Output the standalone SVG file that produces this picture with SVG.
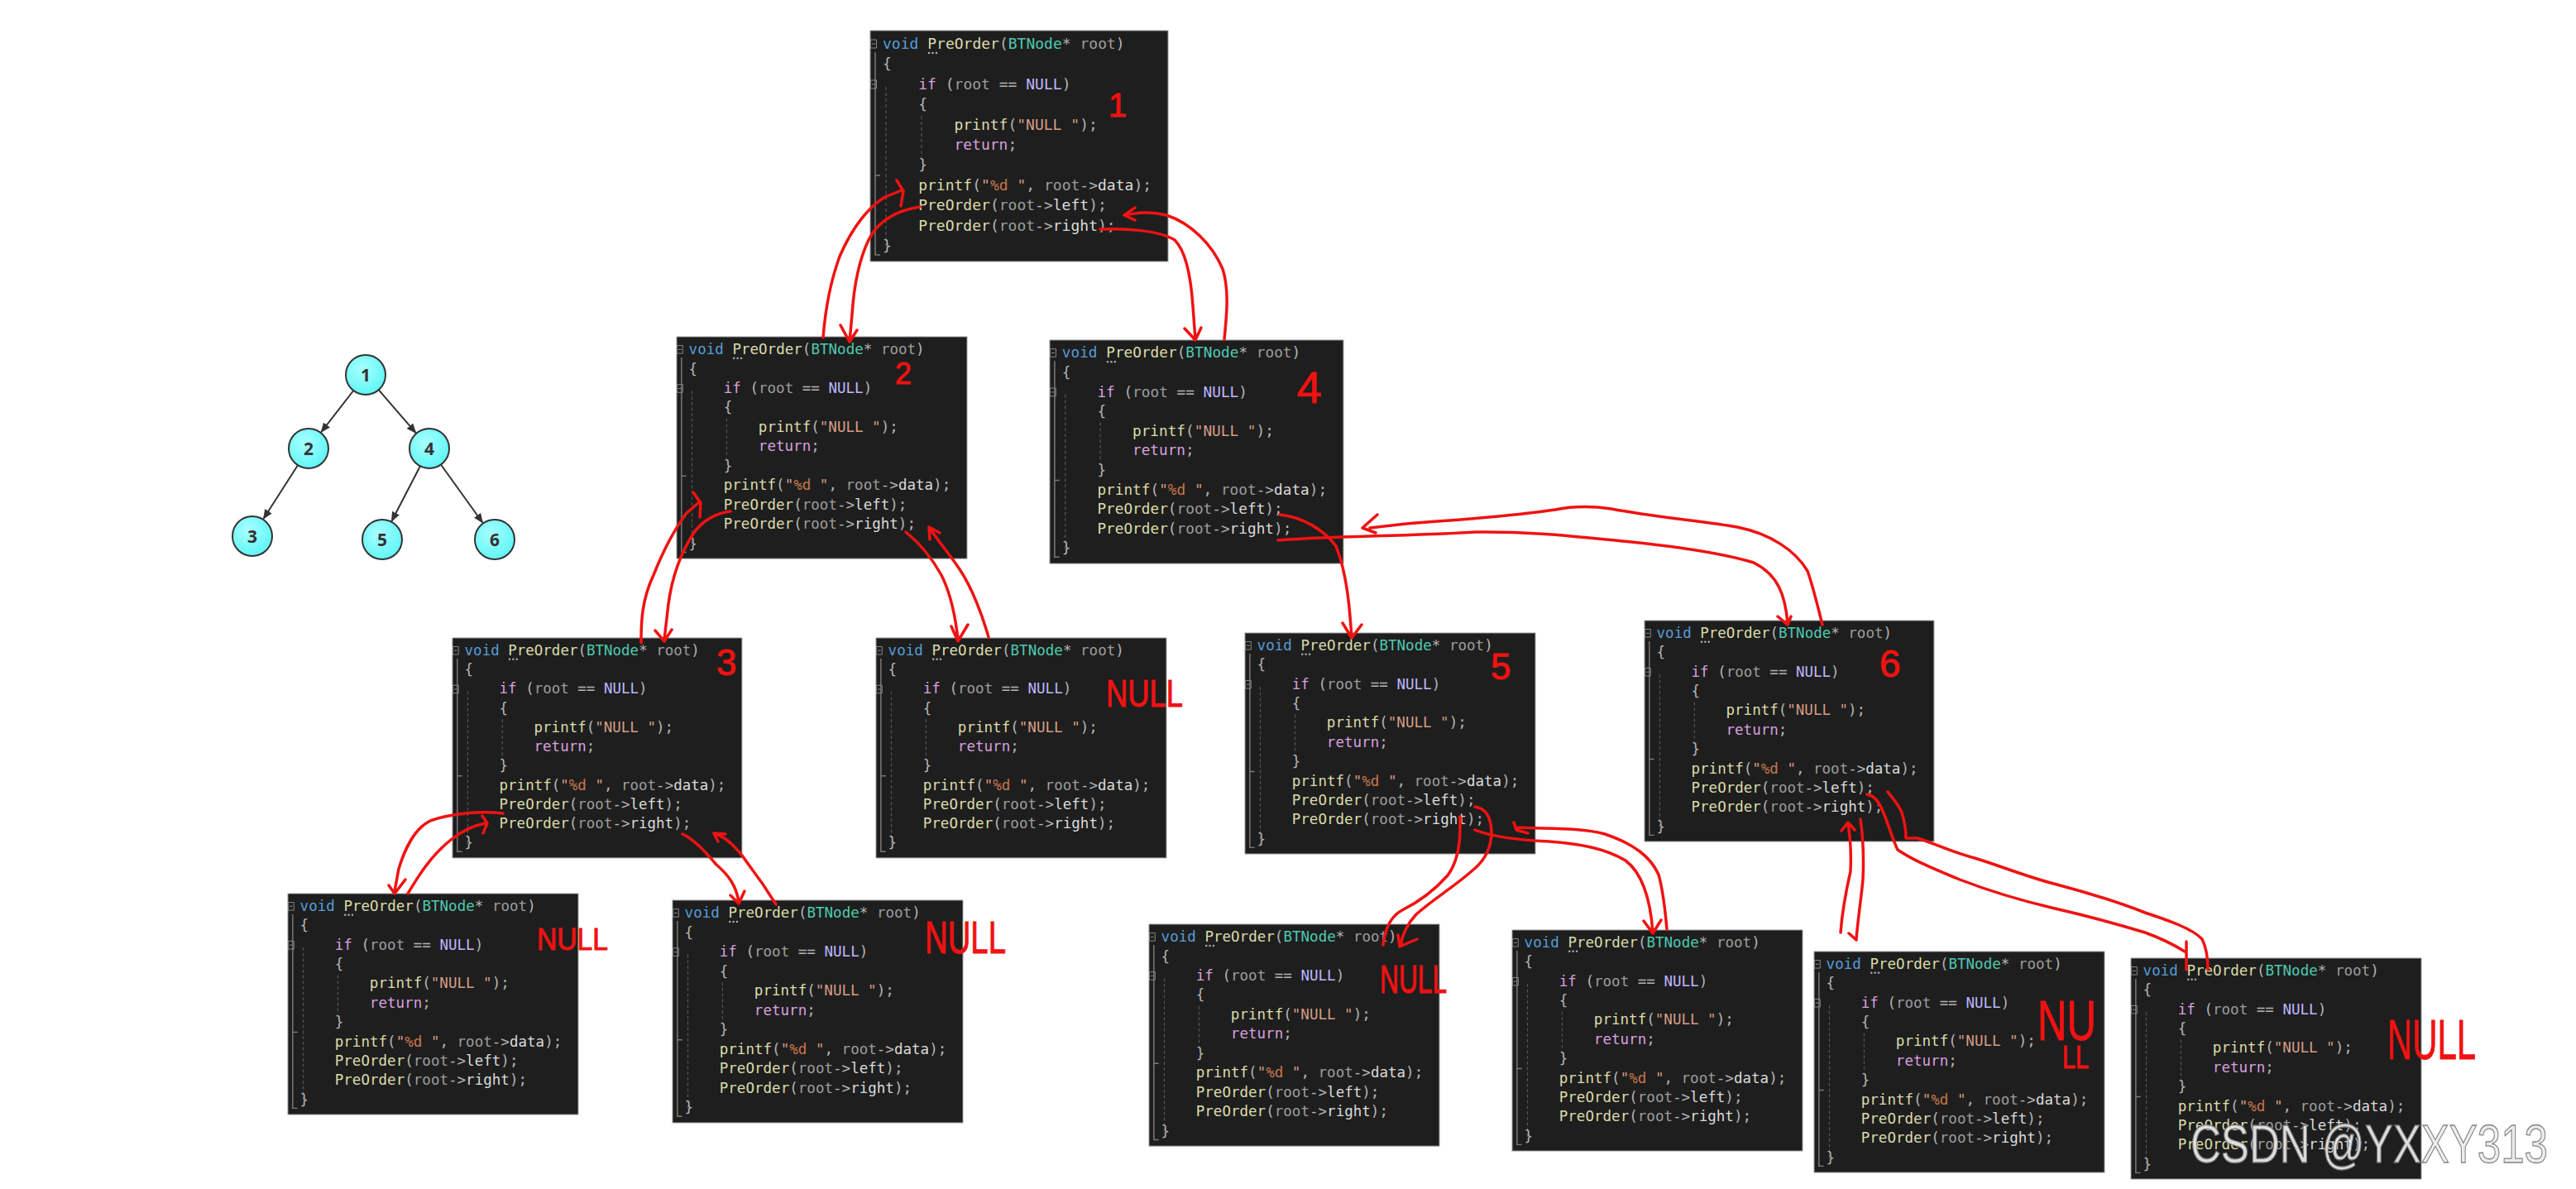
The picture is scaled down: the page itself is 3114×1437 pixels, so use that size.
<svg xmlns="http://www.w3.org/2000/svg" width="3114" height="1437" viewBox="0 0 3114 1437">
<defs>
<style>
.bg{fill:#1E1E1E;stroke:#9a9a9a;stroke-width:1}
.gut{fill:none;stroke:#7a7a7a;stroke-width:1.5}
.gd{fill:none;stroke:#555;stroke-width:1.2;stroke-dasharray:4 3}
.fold{fill:none;stroke:#8a8a8a;stroke-width:1}
.dot{fill:#aaa}
.code text{font-family:"DejaVu Sans Mono","Liberation Mono",monospace;font-size:18px;fill:#B4B4B4;white-space:pre}
.kw{fill:#569CD6}.fn{fill:#DCDCAA}.ty{fill:#4EC9B0}.pr{fill:#9C9C9C}.ct{fill:#D8A0DF}.mc{fill:#BEB7FF}.st{fill:#D69D85}.fm{fill:#C8764B}.fd{fill:#DADADA}
.red{fill:none;stroke:#F01212;stroke-width:3.5;stroke-linecap:round;stroke-linejoin:round}
.hw{font-family:"Liberation Sans Narrow","Liberation Sans",sans-serif;fill:#F01212;stroke:#F01212;stroke-width:1}
.tn{fill:url(#ng);stroke:#333;stroke-width:2}
.tl{font-family:"Open Sans","Liberation Sans",sans-serif;font-weight:700;font-size:21px;fill:#333;text-anchor:middle}
.te{fill:none;stroke:#333;stroke-width:2}
</style>
<radialGradient id="ng" cx="0.4" cy="0.35" r="0.7"><stop offset="0" stop-color="#A8FFFF"/><stop offset="1" stop-color="#5CF5F5"/></radialGradient>
<marker id="ah" viewBox="0 0 12 10" refX="12" refY="5" markerWidth="12" markerHeight="10" markerUnits="userSpaceOnUse" orient="auto"><path d="M0,0L12,5L0,10z" fill="#333"/></marker>
</defs>
<rect width="3114" height="1437" fill="#ffffff"/>

<g id="tree-edges">
<line class="te" x1="427.3" y1="472" x2="387.7" y2="523" marker-end="url(#ah)"/>
<line class="te" x1="457.7" y1="471.1" x2="503.3" y2="523.9" marker-end="url(#ah)"/>
<line class="te" x1="360" y1="562.2" x2="318" y2="627.8" marker-end="url(#ah)"/>
<line class="te" x1="508" y1="563.3" x2="473" y2="630.7" marker-end="url(#ah)"/>
<line class="te" x1="533" y1="561.5" x2="584" y2="632.5" marker-end="url(#ah)"/>
</g>
<g id="tree-node-1"><circle class="tn" cx="442" cy="453" r="24"/><text class="tl" x="442" y="461">1</text></g>
<g id="tree-node-2"><circle class="tn" cx="373" cy="542" r="24"/><text class="tl" x="373" y="550">2</text></g>
<g id="tree-node-4"><circle class="tn" cx="519" cy="542" r="24"/><text class="tl" x="519" y="550">4</text></g>
<g id="tree-node-3"><circle class="tn" cx="305" cy="648" r="24"/><text class="tl" x="305" y="656">3</text></g>
<g id="tree-node-5"><circle class="tn" cx="462" cy="652" r="24"/><text class="tl" x="462" y="660">5</text></g>
<g id="tree-node-6"><circle class="tn" cx="598" cy="652" r="24"/><text class="tl" x="598" y="660">6</text></g>

<g id="call-1" class="code" transform="translate(1052,37) scale(1,1)">
<rect class="bg" width="360" height="279"/><path class="gut" d="M6,26V271H12M6,175H12"/><path class="gd" d="M19,68V262M62,103V153"/><path class="fold" d="M0.5,11h7v10h-7zM2,16h4M0.5,60h7v10h-7zM2,65h4"/><circle class="dot" cx="71" cy="27" r="1.3"/><circle class="dot" cx="75.5" cy="27" r="1.3"/><circle class="dot" cx="80" cy="27" r="1.3"/>
<text x="15" y="22"><tspan class="kw">void</tspan> <tspan class="fn">PreOrder</tspan>(<tspan class="ty">BTNode</tspan>* <tspan class="pr">root</tspan>)</text>
<text x="15" y="46.4">{</text>
<text x="58.2" y="70.8"><tspan class="ct">if</tspan> (<tspan class="pr">root</tspan> == <tspan class="mc">NULL</tspan>)</text>
<text x="58.2" y="95.2">{</text>
<text x="101.4" y="119.6"><tspan class="fn">printf</tspan>(<tspan class="st">"NULL "</tspan>);</text>
<text x="101.4" y="144"><tspan class="ct">return</tspan>;</text>
<text x="58.2" y="168.4">}</text>
<text x="58.2" y="192.8"><tspan class="fn">printf</tspan>(<tspan class="st">"<tspan class="fm">%d</tspan> "</tspan>, <tspan class="pr">root</tspan>-&gt;<tspan class="fd">data</tspan>);</text>
<text x="58.2" y="217.2"><tspan class="fn">PreOrder</tspan>(<tspan class="pr">root</tspan>-&gt;<tspan class="fd">left</tspan>);</text>
<text x="58.2" y="241.6"><tspan class="fn">PreOrder</tspan>(<tspan class="pr">root</tspan>-&gt;<tspan class="fd">right</tspan>);</text>
<text x="15" y="266">}</text>
</g>

<g id="call-2" class="code" transform="translate(818,407) scale(0.975,0.961)">
<rect class="bg" width="360" height="279"/><path class="gut" d="M6,26V271H12M6,175H12"/><path class="gd" d="M19,68V262M62,103V153"/><path class="fold" d="M0.5,11h7v10h-7zM2,16h4M0.5,60h7v10h-7zM2,65h4"/><circle class="dot" cx="71" cy="27" r="1.3"/><circle class="dot" cx="75.5" cy="27" r="1.3"/><circle class="dot" cx="80" cy="27" r="1.3"/>
<text x="15" y="22"><tspan class="kw">void</tspan> <tspan class="fn">PreOrder</tspan>(<tspan class="ty">BTNode</tspan>* <tspan class="pr">root</tspan>)</text>
<text x="15" y="46.4">{</text>
<text x="58.2" y="70.8"><tspan class="ct">if</tspan> (<tspan class="pr">root</tspan> == <tspan class="mc">NULL</tspan>)</text>
<text x="58.2" y="95.2">{</text>
<text x="101.4" y="119.6"><tspan class="fn">printf</tspan>(<tspan class="st">"NULL "</tspan>);</text>
<text x="101.4" y="144"><tspan class="ct">return</tspan>;</text>
<text x="58.2" y="168.4">}</text>
<text x="58.2" y="192.8"><tspan class="fn">printf</tspan>(<tspan class="st">"<tspan class="fm">%d</tspan> "</tspan>, <tspan class="pr">root</tspan>-&gt;<tspan class="fd">data</tspan>);</text>
<text x="58.2" y="217.2"><tspan class="fn">PreOrder</tspan>(<tspan class="pr">root</tspan>-&gt;<tspan class="fd">left</tspan>);</text>
<text x="58.2" y="241.6"><tspan class="fn">PreOrder</tspan>(<tspan class="pr">root</tspan>-&gt;<tspan class="fd">right</tspan>);</text>
<text x="15" y="266">}</text>
</g>

<g id="call-4" class="code" transform="translate(1269,411) scale(0.986,0.968)">
<rect class="bg" width="360" height="279"/><path class="gut" d="M6,26V271H12M6,175H12"/><path class="gd" d="M19,68V262M62,103V153"/><path class="fold" d="M0.5,11h7v10h-7zM2,16h4M0.5,60h7v10h-7zM2,65h4"/><circle class="dot" cx="71" cy="27" r="1.3"/><circle class="dot" cx="75.5" cy="27" r="1.3"/><circle class="dot" cx="80" cy="27" r="1.3"/>
<text x="15" y="22"><tspan class="kw">void</tspan> <tspan class="fn">PreOrder</tspan>(<tspan class="ty">BTNode</tspan>* <tspan class="pr">root</tspan>)</text>
<text x="15" y="46.4">{</text>
<text x="58.2" y="70.8"><tspan class="ct">if</tspan> (<tspan class="pr">root</tspan> == <tspan class="mc">NULL</tspan>)</text>
<text x="58.2" y="95.2">{</text>
<text x="101.4" y="119.6"><tspan class="fn">printf</tspan>(<tspan class="st">"NULL "</tspan>);</text>
<text x="101.4" y="144"><tspan class="ct">return</tspan>;</text>
<text x="58.2" y="168.4">}</text>
<text x="58.2" y="192.8"><tspan class="fn">printf</tspan>(<tspan class="st">"<tspan class="fm">%d</tspan> "</tspan>, <tspan class="pr">root</tspan>-&gt;<tspan class="fd">data</tspan>);</text>
<text x="58.2" y="217.2"><tspan class="fn">PreOrder</tspan>(<tspan class="pr">root</tspan>-&gt;<tspan class="fd">left</tspan>);</text>
<text x="58.2" y="241.6"><tspan class="fn">PreOrder</tspan>(<tspan class="pr">root</tspan>-&gt;<tspan class="fd">right</tspan>);</text>
<text x="15" y="266">}</text>
</g>

<g id="call-3" class="code" transform="translate(547,771) scale(0.972,0.953)">
<rect class="bg" width="360" height="279"/><path class="gut" d="M6,26V271H12M6,175H12"/><path class="gd" d="M19,68V262M62,103V153"/><path class="fold" d="M0.5,11h7v10h-7zM2,16h4M0.5,60h7v10h-7zM2,65h4"/><circle class="dot" cx="71" cy="27" r="1.3"/><circle class="dot" cx="75.5" cy="27" r="1.3"/><circle class="dot" cx="80" cy="27" r="1.3"/>
<text x="15" y="22"><tspan class="kw">void</tspan> <tspan class="fn">PreOrder</tspan>(<tspan class="ty">BTNode</tspan>* <tspan class="pr">root</tspan>)</text>
<text x="15" y="46.4">{</text>
<text x="58.2" y="70.8"><tspan class="ct">if</tspan> (<tspan class="pr">root</tspan> == <tspan class="mc">NULL</tspan>)</text>
<text x="58.2" y="95.2">{</text>
<text x="101.4" y="119.6"><tspan class="fn">printf</tspan>(<tspan class="st">"NULL "</tspan>);</text>
<text x="101.4" y="144"><tspan class="ct">return</tspan>;</text>
<text x="58.2" y="168.4">}</text>
<text x="58.2" y="192.8"><tspan class="fn">printf</tspan>(<tspan class="st">"<tspan class="fm">%d</tspan> "</tspan>, <tspan class="pr">root</tspan>-&gt;<tspan class="fd">data</tspan>);</text>
<text x="58.2" y="217.2"><tspan class="fn">PreOrder</tspan>(<tspan class="pr">root</tspan>-&gt;<tspan class="fd">left</tspan>);</text>
<text x="58.2" y="241.6"><tspan class="fn">PreOrder</tspan>(<tspan class="pr">root</tspan>-&gt;<tspan class="fd">right</tspan>);</text>
<text x="15" y="266">}</text>
</g>

<g id="call-null-2r" class="code" transform="translate(1059,771) scale(0.975,0.953)">
<rect class="bg" width="360" height="279"/><path class="gut" d="M6,26V271H12M6,175H12"/><path class="gd" d="M19,68V262M62,103V153"/><path class="fold" d="M0.5,11h7v10h-7zM2,16h4M0.5,60h7v10h-7zM2,65h4"/><circle class="dot" cx="71" cy="27" r="1.3"/><circle class="dot" cx="75.5" cy="27" r="1.3"/><circle class="dot" cx="80" cy="27" r="1.3"/>
<text x="15" y="22"><tspan class="kw">void</tspan> <tspan class="fn">PreOrder</tspan>(<tspan class="ty">BTNode</tspan>* <tspan class="pr">root</tspan>)</text>
<text x="15" y="46.4">{</text>
<text x="58.2" y="70.8"><tspan class="ct">if</tspan> (<tspan class="pr">root</tspan> == <tspan class="mc">NULL</tspan>)</text>
<text x="58.2" y="95.2">{</text>
<text x="101.4" y="119.6"><tspan class="fn">printf</tspan>(<tspan class="st">"NULL "</tspan>);</text>
<text x="101.4" y="144"><tspan class="ct">return</tspan>;</text>
<text x="58.2" y="168.4">}</text>
<text x="58.2" y="192.8"><tspan class="fn">printf</tspan>(<tspan class="st">"<tspan class="fm">%d</tspan> "</tspan>, <tspan class="pr">root</tspan>-&gt;<tspan class="fd">data</tspan>);</text>
<text x="58.2" y="217.2"><tspan class="fn">PreOrder</tspan>(<tspan class="pr">root</tspan>-&gt;<tspan class="fd">left</tspan>);</text>
<text x="58.2" y="241.6"><tspan class="fn">PreOrder</tspan>(<tspan class="pr">root</tspan>-&gt;<tspan class="fd">right</tspan>);</text>
<text x="15" y="266">}</text>
</g>

<g id="call-5" class="code" transform="translate(1505,765) scale(0.975,0.957)">
<rect class="bg" width="360" height="279"/><path class="gut" d="M6,26V271H12M6,175H12"/><path class="gd" d="M19,68V262M62,103V153"/><path class="fold" d="M0.5,11h7v10h-7zM2,16h4M0.5,60h7v10h-7zM2,65h4"/><circle class="dot" cx="71" cy="27" r="1.3"/><circle class="dot" cx="75.5" cy="27" r="1.3"/><circle class="dot" cx="80" cy="27" r="1.3"/>
<text x="15" y="22"><tspan class="kw">void</tspan> <tspan class="fn">PreOrder</tspan>(<tspan class="ty">BTNode</tspan>* <tspan class="pr">root</tspan>)</text>
<text x="15" y="46.4">{</text>
<text x="58.2" y="70.8"><tspan class="ct">if</tspan> (<tspan class="pr">root</tspan> == <tspan class="mc">NULL</tspan>)</text>
<text x="58.2" y="95.2">{</text>
<text x="101.4" y="119.6"><tspan class="fn">printf</tspan>(<tspan class="st">"NULL "</tspan>);</text>
<text x="101.4" y="144"><tspan class="ct">return</tspan>;</text>
<text x="58.2" y="168.4">}</text>
<text x="58.2" y="192.8"><tspan class="fn">printf</tspan>(<tspan class="st">"<tspan class="fm">%d</tspan> "</tspan>, <tspan class="pr">root</tspan>-&gt;<tspan class="fd">data</tspan>);</text>
<text x="58.2" y="217.2"><tspan class="fn">PreOrder</tspan>(<tspan class="pr">root</tspan>-&gt;<tspan class="fd">left</tspan>);</text>
<text x="58.2" y="241.6"><tspan class="fn">PreOrder</tspan>(<tspan class="pr">root</tspan>-&gt;<tspan class="fd">right</tspan>);</text>
<text x="15" y="266">}</text>
</g>

<g id="call-6" class="code" transform="translate(1988,750) scale(0.972,0.957)">
<rect class="bg" width="360" height="279"/><path class="gut" d="M6,26V271H12M6,175H12"/><path class="gd" d="M19,68V262M62,103V153"/><path class="fold" d="M0.5,11h7v10h-7zM2,16h4M0.5,60h7v10h-7zM2,65h4"/><circle class="dot" cx="71" cy="27" r="1.3"/><circle class="dot" cx="75.5" cy="27" r="1.3"/><circle class="dot" cx="80" cy="27" r="1.3"/>
<text x="15" y="22"><tspan class="kw">void</tspan> <tspan class="fn">PreOrder</tspan>(<tspan class="ty">BTNode</tspan>* <tspan class="pr">root</tspan>)</text>
<text x="15" y="46.4">{</text>
<text x="58.2" y="70.8"><tspan class="ct">if</tspan> (<tspan class="pr">root</tspan> == <tspan class="mc">NULL</tspan>)</text>
<text x="58.2" y="95.2">{</text>
<text x="101.4" y="119.6"><tspan class="fn">printf</tspan>(<tspan class="st">"NULL "</tspan>);</text>
<text x="101.4" y="144"><tspan class="ct">return</tspan>;</text>
<text x="58.2" y="168.4">}</text>
<text x="58.2" y="192.8"><tspan class="fn">printf</tspan>(<tspan class="st">"<tspan class="fm">%d</tspan> "</tspan>, <tspan class="pr">root</tspan>-&gt;<tspan class="fd">data</tspan>);</text>
<text x="58.2" y="217.2"><tspan class="fn">PreOrder</tspan>(<tspan class="pr">root</tspan>-&gt;<tspan class="fd">left</tspan>);</text>
<text x="58.2" y="241.6"><tspan class="fn">PreOrder</tspan>(<tspan class="pr">root</tspan>-&gt;<tspan class="fd">right</tspan>);</text>
<text x="15" y="266">}</text>
</g>

<g id="call-null-3l" class="code" transform="translate(348,1080) scale(0.975,0.957)">
<rect class="bg" width="360" height="279"/><path class="gut" d="M6,26V271H12M6,175H12"/><path class="gd" d="M19,68V262M62,103V153"/><path class="fold" d="M0.5,11h7v10h-7zM2,16h4M0.5,60h7v10h-7zM2,65h4"/><circle class="dot" cx="71" cy="27" r="1.3"/><circle class="dot" cx="75.5" cy="27" r="1.3"/><circle class="dot" cx="80" cy="27" r="1.3"/>
<text x="15" y="22"><tspan class="kw">void</tspan> <tspan class="fn">PreOrder</tspan>(<tspan class="ty">BTNode</tspan>* <tspan class="pr">root</tspan>)</text>
<text x="15" y="46.4">{</text>
<text x="58.2" y="70.8"><tspan class="ct">if</tspan> (<tspan class="pr">root</tspan> == <tspan class="mc">NULL</tspan>)</text>
<text x="58.2" y="95.2">{</text>
<text x="101.4" y="119.6"><tspan class="fn">printf</tspan>(<tspan class="st">"NULL "</tspan>);</text>
<text x="101.4" y="144"><tspan class="ct">return</tspan>;</text>
<text x="58.2" y="168.4">}</text>
<text x="58.2" y="192.8"><tspan class="fn">printf</tspan>(<tspan class="st">"<tspan class="fm">%d</tspan> "</tspan>, <tspan class="pr">root</tspan>-&gt;<tspan class="fd">data</tspan>);</text>
<text x="58.2" y="217.2"><tspan class="fn">PreOrder</tspan>(<tspan class="pr">root</tspan>-&gt;<tspan class="fd">left</tspan>);</text>
<text x="58.2" y="241.6"><tspan class="fn">PreOrder</tspan>(<tspan class="pr">root</tspan>-&gt;<tspan class="fd">right</tspan>);</text>
<text x="15" y="266">}</text>
</g>

<g id="call-null-3r" class="code" transform="translate(813,1088) scale(0.975,0.964)">
<rect class="bg" width="360" height="279"/><path class="gut" d="M6,26V271H12M6,175H12"/><path class="gd" d="M19,68V262M62,103V153"/><path class="fold" d="M0.5,11h7v10h-7zM2,16h4M0.5,60h7v10h-7zM2,65h4"/><circle class="dot" cx="71" cy="27" r="1.3"/><circle class="dot" cx="75.5" cy="27" r="1.3"/><circle class="dot" cx="80" cy="27" r="1.3"/>
<text x="15" y="22"><tspan class="kw">void</tspan> <tspan class="fn">PreOrder</tspan>(<tspan class="ty">BTNode</tspan>* <tspan class="pr">root</tspan>)</text>
<text x="15" y="46.4">{</text>
<text x="58.2" y="70.8"><tspan class="ct">if</tspan> (<tspan class="pr">root</tspan> == <tspan class="mc">NULL</tspan>)</text>
<text x="58.2" y="95.2">{</text>
<text x="101.4" y="119.6"><tspan class="fn">printf</tspan>(<tspan class="st">"NULL "</tspan>);</text>
<text x="101.4" y="144"><tspan class="ct">return</tspan>;</text>
<text x="58.2" y="168.4">}</text>
<text x="58.2" y="192.8"><tspan class="fn">printf</tspan>(<tspan class="st">"<tspan class="fm">%d</tspan> "</tspan>, <tspan class="pr">root</tspan>-&gt;<tspan class="fd">data</tspan>);</text>
<text x="58.2" y="217.2"><tspan class="fn">PreOrder</tspan>(<tspan class="pr">root</tspan>-&gt;<tspan class="fd">left</tspan>);</text>
<text x="58.2" y="241.6"><tspan class="fn">PreOrder</tspan>(<tspan class="pr">root</tspan>-&gt;<tspan class="fd">right</tspan>);</text>
<text x="15" y="266">}</text>
</g>

<g id="call-null-5l" class="code" transform="translate(1389,1117) scale(0.975,0.961)">
<rect class="bg" width="360" height="279"/><path class="gut" d="M6,26V271H12M6,175H12"/><path class="gd" d="M19,68V262M62,103V153"/><path class="fold" d="M0.5,11h7v10h-7zM2,16h4M0.5,60h7v10h-7zM2,65h4"/><circle class="dot" cx="71" cy="27" r="1.3"/><circle class="dot" cx="75.5" cy="27" r="1.3"/><circle class="dot" cx="80" cy="27" r="1.3"/>
<text x="15" y="22"><tspan class="kw">void</tspan> <tspan class="fn">PreOrder</tspan>(<tspan class="ty">BTNode</tspan>* <tspan class="pr">root</tspan>)</text>
<text x="15" y="46.4">{</text>
<text x="58.2" y="70.8"><tspan class="ct">if</tspan> (<tspan class="pr">root</tspan> == <tspan class="mc">NULL</tspan>)</text>
<text x="58.2" y="95.2">{</text>
<text x="101.4" y="119.6"><tspan class="fn">printf</tspan>(<tspan class="st">"NULL "</tspan>);</text>
<text x="101.4" y="144"><tspan class="ct">return</tspan>;</text>
<text x="58.2" y="168.4">}</text>
<text x="58.2" y="192.8"><tspan class="fn">printf</tspan>(<tspan class="st">"<tspan class="fm">%d</tspan> "</tspan>, <tspan class="pr">root</tspan>-&gt;<tspan class="fd">data</tspan>);</text>
<text x="58.2" y="217.2"><tspan class="fn">PreOrder</tspan>(<tspan class="pr">root</tspan>-&gt;<tspan class="fd">left</tspan>);</text>
<text x="58.2" y="241.6"><tspan class="fn">PreOrder</tspan>(<tspan class="pr">root</tspan>-&gt;<tspan class="fd">right</tspan>);</text>
<text x="15" y="266">}</text>
</g>

<g id="call-null-5r" class="code" transform="translate(1828,1124) scale(0.975,0.957)">
<rect class="bg" width="360" height="279"/><path class="gut" d="M6,26V271H12M6,175H12"/><path class="gd" d="M19,68V262M62,103V153"/><path class="fold" d="M0.5,11h7v10h-7zM2,16h4M0.5,60h7v10h-7zM2,65h4"/><circle class="dot" cx="71" cy="27" r="1.3"/><circle class="dot" cx="75.5" cy="27" r="1.3"/><circle class="dot" cx="80" cy="27" r="1.3"/>
<text x="15" y="22"><tspan class="kw">void</tspan> <tspan class="fn">PreOrder</tspan>(<tspan class="ty">BTNode</tspan>* <tspan class="pr">root</tspan>)</text>
<text x="15" y="46.4">{</text>
<text x="58.2" y="70.8"><tspan class="ct">if</tspan> (<tspan class="pr">root</tspan> == <tspan class="mc">NULL</tspan>)</text>
<text x="58.2" y="95.2">{</text>
<text x="101.4" y="119.6"><tspan class="fn">printf</tspan>(<tspan class="st">"NULL "</tspan>);</text>
<text x="101.4" y="144"><tspan class="ct">return</tspan>;</text>
<text x="58.2" y="168.4">}</text>
<text x="58.2" y="192.8"><tspan class="fn">printf</tspan>(<tspan class="st">"<tspan class="fm">%d</tspan> "</tspan>, <tspan class="pr">root</tspan>-&gt;<tspan class="fd">data</tspan>);</text>
<text x="58.2" y="217.2"><tspan class="fn">PreOrder</tspan>(<tspan class="pr">root</tspan>-&gt;<tspan class="fd">left</tspan>);</text>
<text x="58.2" y="241.6"><tspan class="fn">PreOrder</tspan>(<tspan class="pr">root</tspan>-&gt;<tspan class="fd">right</tspan>);</text>
<text x="15" y="266">}</text>
</g>

<g id="call-null-6l" class="code" transform="translate(2193,1150) scale(0.975,0.957)">
<rect class="bg" width="360" height="279"/><path class="gut" d="M6,26V271H12M6,175H12"/><path class="gd" d="M19,68V262M62,103V153"/><path class="fold" d="M0.5,11h7v10h-7zM2,16h4M0.5,60h7v10h-7zM2,65h4"/><circle class="dot" cx="71" cy="27" r="1.3"/><circle class="dot" cx="75.5" cy="27" r="1.3"/><circle class="dot" cx="80" cy="27" r="1.3"/>
<text x="15" y="22"><tspan class="kw">void</tspan> <tspan class="fn">PreOrder</tspan>(<tspan class="ty">BTNode</tspan>* <tspan class="pr">root</tspan>)</text>
<text x="15" y="46.4">{</text>
<text x="58.2" y="70.8"><tspan class="ct">if</tspan> (<tspan class="pr">root</tspan> == <tspan class="mc">NULL</tspan>)</text>
<text x="58.2" y="95.2">{</text>
<text x="101.4" y="119.6"><tspan class="fn">printf</tspan>(<tspan class="st">"NULL "</tspan>);</text>
<text x="101.4" y="144"><tspan class="ct">return</tspan>;</text>
<text x="58.2" y="168.4">}</text>
<text x="58.2" y="192.8"><tspan class="fn">printf</tspan>(<tspan class="st">"<tspan class="fm">%d</tspan> "</tspan>, <tspan class="pr">root</tspan>-&gt;<tspan class="fd">data</tspan>);</text>
<text x="58.2" y="217.2"><tspan class="fn">PreOrder</tspan>(<tspan class="pr">root</tspan>-&gt;<tspan class="fd">left</tspan>);</text>
<text x="58.2" y="241.6"><tspan class="fn">PreOrder</tspan>(<tspan class="pr">root</tspan>-&gt;<tspan class="fd">right</tspan>);</text>
<text x="15" y="266">}</text>
</g>

<g id="call-null-6r" class="code" transform="translate(2576,1158) scale(0.975,0.957)">
<rect class="bg" width="360" height="279"/><path class="gut" d="M6,26V271H12M6,175H12"/><path class="gd" d="M19,68V262M62,103V153"/><path class="fold" d="M0.5,11h7v10h-7zM2,16h4M0.5,60h7v10h-7zM2,65h4"/><circle class="dot" cx="71" cy="27" r="1.3"/><circle class="dot" cx="75.5" cy="27" r="1.3"/><circle class="dot" cx="80" cy="27" r="1.3"/>
<text x="15" y="22"><tspan class="kw">void</tspan> <tspan class="fn">PreOrder</tspan>(<tspan class="ty">BTNode</tspan>* <tspan class="pr">root</tspan>)</text>
<text x="15" y="46.4">{</text>
<text x="58.2" y="70.8"><tspan class="ct">if</tspan> (<tspan class="pr">root</tspan> == <tspan class="mc">NULL</tspan>)</text>
<text x="58.2" y="95.2">{</text>
<text x="101.4" y="119.6"><tspan class="fn">printf</tspan>(<tspan class="st">"NULL "</tspan>);</text>
<text x="101.4" y="144"><tspan class="ct">return</tspan>;</text>
<text x="58.2" y="168.4">}</text>
<text x="58.2" y="192.8"><tspan class="fn">printf</tspan>(<tspan class="st">"<tspan class="fm">%d</tspan> "</tspan>, <tspan class="pr">root</tspan>-&gt;<tspan class="fd">data</tspan>);</text>
<text x="58.2" y="217.2"><tspan class="fn">PreOrder</tspan>(<tspan class="pr">root</tspan>-&gt;<tspan class="fd">left</tspan>);</text>
<text x="58.2" y="241.6"><tspan class="fn">PreOrder</tspan>(<tspan class="pr">root</tspan>-&gt;<tspan class="fd">right</tspan>);</text>
<text x="15" y="266">}</text>
</g>

<g id="trace-connectors" class="red">
<path d="M1112,250C1080,255 1060,270 1050,290C1038,315 1032,350 1030,380L1027,413M1016,393L1027,413L1036,399"/>
<path d="M995,408C998,370 1004,340 1015,310C1030,275 1050,250 1070,238L1090,230M1084,218L1092,231L1089,249"/>
<path d="M1330,277C1360,276 1400,278 1420,290C1435,305 1440,340 1442,370L1445,410M1432,397L1445,411L1452,396"/>
<path d="M1480,410C1483,380 1486,350 1478,325C1465,295 1440,270 1410,260C1390,255 1375,257 1359,260M1372,251L1359,260L1372,266"/>
<path d="M883,618C865,620 848,630 838,645C822,670 812,700 808,730L803,773M792,762L803,775L812,761"/>
<path d="M775,777C775,750 776,725 790,695C800,670 815,640 830,620L845,607M838,595L847,608L846,625"/>
<path d="M1095,643C1110,655 1125,672 1138,695C1148,715 1155,745 1158,773M1150,757L1158,775L1170,755"/>
<path d="M1195,770C1188,745 1175,710 1160,688C1148,670 1135,655 1125,640M1123,637L1124,652M1123,637L1136,644"/>
<path d="M608,983C580,980 545,983 520,992C500,1002 488,1030 482,1050L477,1077M470,1070L477,1080L490,1063"/>
<path d="M493,1080C505,1060 520,1035 545,1015C560,1003 575,997 587,995M583,986L589,995L584,1007"/>
<path d="M825,1008C840,1015 853,1030 866,1045C880,1057 890,1070 893,1090M883,1082L893,1092L900,1077"/>
<path d="M938,1093C930,1080 918,1062 905,1045C895,1030 880,1012 863,1007M863,1007L877,1008M863,1007L868,1017"/>
<path d="M1547,622C1575,625 1600,640 1615,660C1625,685 1630,720 1632,745L1634,770M1623,753L1634,771L1646,755"/>
<path d="M1545,653C1600,648 1700,648 1783,643C1850,642 1900,648 1972,655C2020,660 2080,668 2120,680C2150,695 2158,720 2161,753M2149,745L2161,755L2165,745"/>
<path d="M2203,755C2198,735 2192,710 2185,690C2170,665 2140,645 2100,637C2060,630 2000,625 1948,615C1920,611 1900,612 1880,616C1820,625 1760,628 1700,633L1656,638M1665,622L1647,638L1663,644"/>
<path d="M1783,975C1795,977 1802,985 1803,1005C1803,1025 1795,1040 1780,1052C1760,1070 1735,1085 1712,1105C1700,1118 1695,1130 1693,1143M1690,1130L1692,1144L1713,1135"/>
<path d="M1672,1142C1674,1125 1680,1108 1695,1100C1715,1090 1735,1075 1750,1058C1762,1042 1765,1020 1765,1000L1765,987"/>
<path d="M1783,1003C1800,1010 1830,1015 1873,1017C1910,1020 1940,1025 1965,1040C1985,1055 1995,1085 1998,1127M1987,1113L1998,1128L2008,1112"/>
<path d="M2015,1123C2013,1100 2010,1075 2005,1057C1995,1035 1975,1020 1940,1008C1910,1000 1870,1002 1833,1000M1830,994L1833,1003L1847,1007"/>
<path d="M2257,960C2267,962 2272,970 2278,985C2284,1000 2288,1015 2294,1027C2310,1038 2330,1047 2369,1063C2400,1075 2438,1087 2480,1097C2524,1107 2560,1117 2593,1127C2615,1135 2630,1143 2641,1150M2643,1138L2643,1172"/>
<path d="M2225,1127C2227,1100 2232,1075 2237,1053C2238,1030 2237,1013 2234,996M2226,1004L2234,994L2242,1003"/>
<path d="M2249,990C2252,1010 2253,1040 2252,1063C2250,1085 2246,1110 2244,1135M2235,1128L2244,1136"/>
<path d="M2282,957C2288,965 2295,972 2299,982C2303,995 2304,1005 2304,1013L2318,1013C2340,1020 2360,1030 2387,1037C2420,1047 2450,1060 2490,1070C2520,1078 2560,1090 2593,1103C2620,1112 2650,1122 2662,1135C2667,1145 2669,1155 2669,1172"/>
</g>

<g id="handwritten-labels" class="hw">
<text x="1340" y="141" font-size="40">1</text>
<text x="1082" y="464" font-size="36">2</text>
<text x="866" y="816" font-size="44">3</text>
<text x="1568" y="487" font-size="54">4</text>
<text x="1802" y="821" font-size="44">5</text>
<text x="2272" y="818" font-size="46">6</text>
<text x="1337" y="854" font-size="46" textLength="93" lengthAdjust="spacingAndGlyphs">NULL</text>
<text x="649" y="1148" font-size="36" textLength="86" lengthAdjust="spacingAndGlyphs">NULL</text>
<text x="1118" y="1152" font-size="55" textLength="98" lengthAdjust="spacingAndGlyphs">NULL</text>
<text x="1668" y="1200" font-size="48" textLength="81" lengthAdjust="spacingAndGlyphs">NULL</text>
<text x="2463" y="1257" font-size="68" textLength="71" lengthAdjust="spacingAndGlyphs">NU</text>
<text x="2493" y="1291" font-size="38" textLength="32" lengthAdjust="spacingAndGlyphs">LL</text>
<text x="2886" y="1280" font-size="68" textLength="107" lengthAdjust="spacingAndGlyphs">NULL</text>
</g>

<g id="watermark">
<text x="2648" y="1405" font-family="'Liberation Sans Narrow','Liberation Sans',sans-serif" font-size="64" textLength="432" lengthAdjust="spacingAndGlyphs" fill="#ececec" stroke="#7a7a7a" stroke-width="1.3" opacity="0.92">CSDN @YXXY313</text>
</g>
</svg>
